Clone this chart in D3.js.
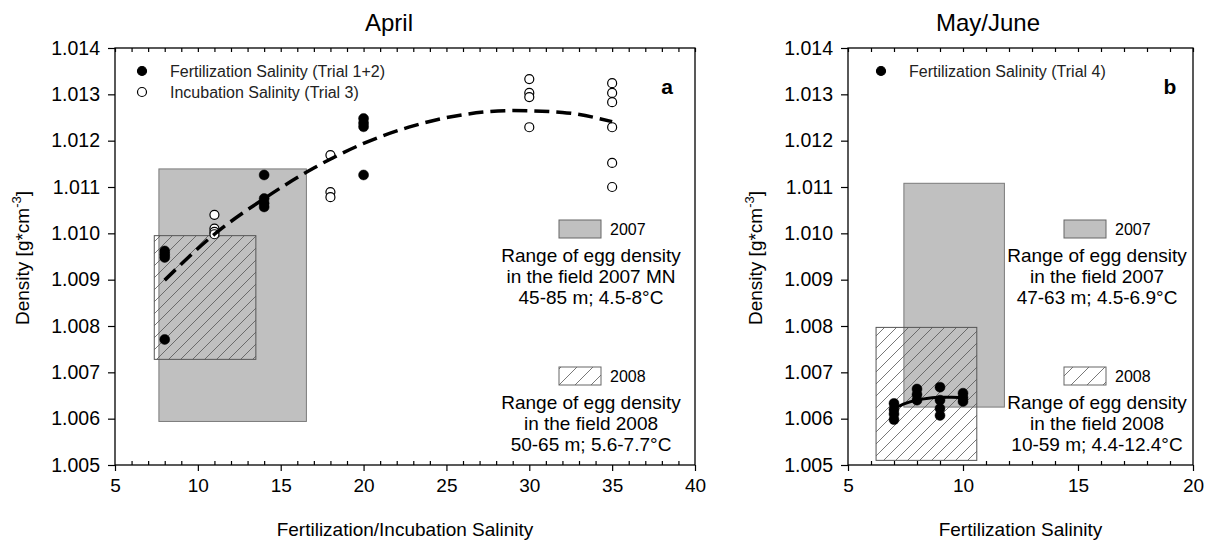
<!DOCTYPE html>
<html>
<head>
<meta charset="utf-8">
<script src="https://cdn.jsdelivr.net/npm/d3@7"></script>
<style>
	body { margin: 0; background: #fff; }
	svg text { font-family: "Liberation Sans", Arial, sans-serif; fill: #000; }
</style>
</head>
<body>
<script>

// April: fertilization trials 1+2 (filled) and incubation trial 3 (open)
const aprilFert = [[8,1.00962],[8,1.00955],[8,1.00948],[8,1.00771],
	[14,1.01126],[14,1.01075],[14,1.01065],[14,1.01057],
	[20,1.01248],[20,1.01238],[20,1.01230],[20,1.01126]]
const aprilIncub = [[11,1.01040],[11,1.01010],[11,1.01003],[11,1.00998],
	[18,1.01169],[18,1.01089],[18,1.01078],
	[30,1.01333],[30,1.01303],[30,1.01294],[30,1.01229],
	[35,1.01324],[35,1.01303],[35,1.01283],[35,1.01229],[35,1.01152],[35,1.01100]]
// fitted curve
const aprilFit = [[8,1.00899],[11,1.00998],[14,1.01075],[17,1.01141],[20,1.01194],
	[23,1.01232],[26,1.01256],[29,1.01265],[32,1.01261],[35,1.01241]]

// May/June: fertilization trial 4
const mayFert = [[7,1.00633],[7,1.00620],[7,1.00610],[7,1.00598],
	[8,1.00664],[8,1.00652],[8,1.00640],
	[9,1.00668],[9,1.00640],[9,1.00622],[9,1.00607],
	[10,1.00655],[10,1.00645],[10,1.00637]]
const mayFit = [[7,1.00622],[7.5,1.00633],[8,1.00640],[8.5,1.00644],[9,1.00646],[9.5,1.00646],[10,1.00645]]

// field egg density ranges (salinity span, density span)
const aprilRanges = [
	{year: '2007', sal: [7.65, 16.55], dens: [1.00594, 1.01139]},
	{year: '2008', sal: [7.37, 13.50], dens: [1.00728, 1.00995]}
]
const mayRanges = [
	{year: '2007', sal: [7.43, 11.80], dens: [1.00625, 1.01108]},
	{year: '2008', sal: [6.22, 10.60], dens: [1.00510, 1.00797]}
]

const aprilNotes = {
	'2007': ['Range of egg density', 'in the field 2007 MN', '45-85 m; 4.5-8°C'],
	'2008': ['Range of egg density', 'in the field 2008', '50-65 m; 5.6-7.7°C']
}
const mayNotes = {
	'2007': ['Range of egg density', 'in the field 2007', '47-63 m; 4.5-6.9°C'],
	'2008': ['Range of egg density', 'in the field 2008', '10-59 m; 4.4-12.4°C']
}

const yTicks = [1.005,1.006,1.007,1.008,1.009,1.010,1.011,1.012,1.013,1.014]

const svg = d3.select('body').append('svg')
	.attr('width', 1214).attr('height', 540)

// hatch patterns
const defs = svg.append('defs')
function hatch(id, s) {
	defs.append('pattern').attr('id', id)
		.attr('patternUnits', 'userSpaceOnUse')
		.attr('width', s).attr('height', s)
		.append('path')
		.attr('d', 'M0,' + s + 'L' + s + ',0M-2,2L2,-2M' + (s-2) + ',' + (s+2) + 'L' + (s+2) + ',' + (s-2))
		.attr('stroke', '#555').attr('stroke-width', 0.8)
}
hatch('hatch', 12)
hatch('hatchLeg', 16)

function panel(opt) {
	const x = d3.scaleLinear().domain(opt.xDomain).range([opt.left, opt.right])
	const y = d3.scaleLinear().domain([1.005, 1.014]).range([465, 48])
	const g = svg.append('g')

	// range boxes
	opt.ranges.forEach(r => {
		g.append('rect')
			.attr('x', x(r.sal[0])).attr('width', x(r.sal[1]) - x(r.sal[0]))
			.attr('y', y(r.dens[1])).attr('height', y(r.dens[0]) - y(r.dens[1]))
			.attr('fill', r.year == '2007' ? '#c0c0c0' : 'url(#hatch)')
			.attr('stroke', r.year == '2007' ? '#7a7a7a' : '#555')
			.attr('stroke-width', 1)
	})

	// points
	opt.series.forEach(s => {
		g.selectAll(null).data(s.data).enter().append('circle')
			.attr('cx', d => x(d[0])).attr('cy', d => y(d[1]))
			.attr('r', s.open ? 4.5 : 5)
			.attr('fill', s.open ? '#fff' : '#000')
			.attr('stroke', '#000').attr('stroke-width', s.open ? 1.2 : 0.5)
	})

	// fit curve
	g.append('path').datum(opt.fit)
		.attr('d', d3.line().x(d => x(d[0])).y(d => y(d[1])).curve(d3.curveMonotoneX))
		.attr('fill', 'none').attr('stroke', '#000')
		.attr('stroke-width', opt.dashed ? 3.5 : 3)
		.attr('stroke-dasharray', opt.dashed ? '15,7' : null)

	// frame
	g.append('rect').attr('x', opt.left).attr('y', 48)
		.attr('width', opt.right - opt.left).attr('height', 417)
		.attr('fill', 'none').attr('stroke', '#000').attr('stroke-width', 1.3)

	const minor = d3.range(opt.xDomain[0], opt.xDomain[1] + 1)
	const major = minor.filter(v => v % 5 == 0)

	// bottom axis: major ticks out, minor ticks in
	g.append('g').attr('transform', 'translate(0,465)')
		.call(d3.axisBottom(x).tickValues(major).tickSize(6).tickPadding(8))
		.call(a => a.select('.domain').remove())
		.call(a => a.selectAll('text').style('font-size', '19px'))
	g.append('g').attr('transform', 'translate(0,465)')
		.call(d3.axisBottom(x).tickValues(minor.filter(v => v % 5 != 0)).tickSize(-4).tickFormat(''))
		.call(a => a.select('.domain').remove())
	// top axis ticks inward
	g.append('g').attr('transform', 'translate(0,48)')
		.call(d3.axisTop(x).tickValues(minor).tickSize(-4).tickFormat(''))
		.call(a => a.select('.domain').remove())
	// left axis
	g.append('g').attr('transform', 'translate(' + opt.left + ',0)')
		.call(d3.axisLeft(y).tickValues(yTicks).tickFormat(d3.format('.3f')).tickSize(7).tickPadding(8))
		.call(a => a.select('.domain').remove())
		.call(a => a.selectAll('text').style('font-size', '19.5px'))
	g.selectAll('.tick line').attr('stroke-width', 1.2)

	// titles
	g.append('text').attr('x', opt.titleX).attr('y', 31)
		.attr('text-anchor', 'middle').style('font-size', '24px').text(opt.title)
	g.append('text').attr('x', (opt.left + opt.right) / 2).attr('y', 536)
		.attr('text-anchor', 'middle').style('font-size', '19px').text(opt.xTitle)
	const yl = g.append('text')
		.attr('transform', 'translate(' + (opt.left - 86) + ',258) rotate(-90)')
		.attr('text-anchor', 'middle').style('font-size', '19px')
	yl.append('tspan').text('Density [g*cm')
	yl.append('tspan').attr('dy', -8).style('font-size', '13px').text('-3')
	yl.append('tspan').attr('dy', 8).text(']')

	g.append('text').attr('x', opt.letterX).attr('y', 94)
		.attr('text-anchor', 'middle').style('font-size', '21px').style('font-weight', 'bold')
		.text(opt.letter)

	// point legend
	opt.series.forEach((s, i) => {
		const ly = 71 + i * 21
		g.append('circle').attr('cx', opt.legX).attr('cy', ly)
			.attr('r', 4.5).attr('fill', s.open ? '#fff' : '#000')
			.attr('stroke', '#000').attr('stroke-width', 1.2)
		g.append('text').attr('x', opt.legX + 28).attr('y', ly + 6)
			.style('font-size', '16px').style('fill', '#222').text(s.label)
	})

	// range legends
	const blocks = [{year: '2007', top: 220}, {year: '2008', top: 367}]
	blocks.forEach(b => {
		g.append('rect').attr('x', opt.boxX).attr('y', b.top)
			.attr('width', 42).attr('height', 18)
			.attr('fill', b.year == '2007' ? '#c0c0c0' : 'url(#hatchLeg)')
			.attr('stroke', '#666').attr('stroke-width', 1)
		g.append('text').attr('x', opt.boxX + 51).attr('y', b.top + 15)
			.style('font-size', '16px').text(b.year)
		opt.notes[b.year].forEach((t, i) => {
			g.append('text').attr('x', opt.noteX).attr('y', b.top + 42 + i * 21)
				.attr('text-anchor', 'middle').style('font-size', '19px').text(t)
		})
	})
}

panel({
	left: 115, right: 695, xDomain: [5, 40],
	ranges: aprilRanges, fit: aprilFit, dashed: true,
	series: [
		{data: aprilFert, open: false, label: 'Fertilization Salinity (Trial 1+2)'},
		{data: aprilIncub, open: true, label: 'Incubation Salinity (Trial 3)'}
	],
	title: 'April', titleX: 389, xTitle: 'Fertilization/Incubation Salinity',
	letter: 'a', letterX: 667, legX: 142,
	boxX: 559, noteX: 591, notes: aprilNotes
})

panel({
	left: 848, right: 1193, xDomain: [5, 20],
	ranges: mayRanges, fit: mayFit, dashed: false,
	series: [
		{data: mayFert, open: false, label: 'Fertilization Salinity (Trial 4)'}
	],
	title: 'May/June', titleX: 988, xTitle: 'Fertilization Salinity',
	letter: 'b', letterX: 1170, legX: 881,
	boxX: 1064, noteX: 1097, notes: mayNotes
})

</script>
</body>
</html>
